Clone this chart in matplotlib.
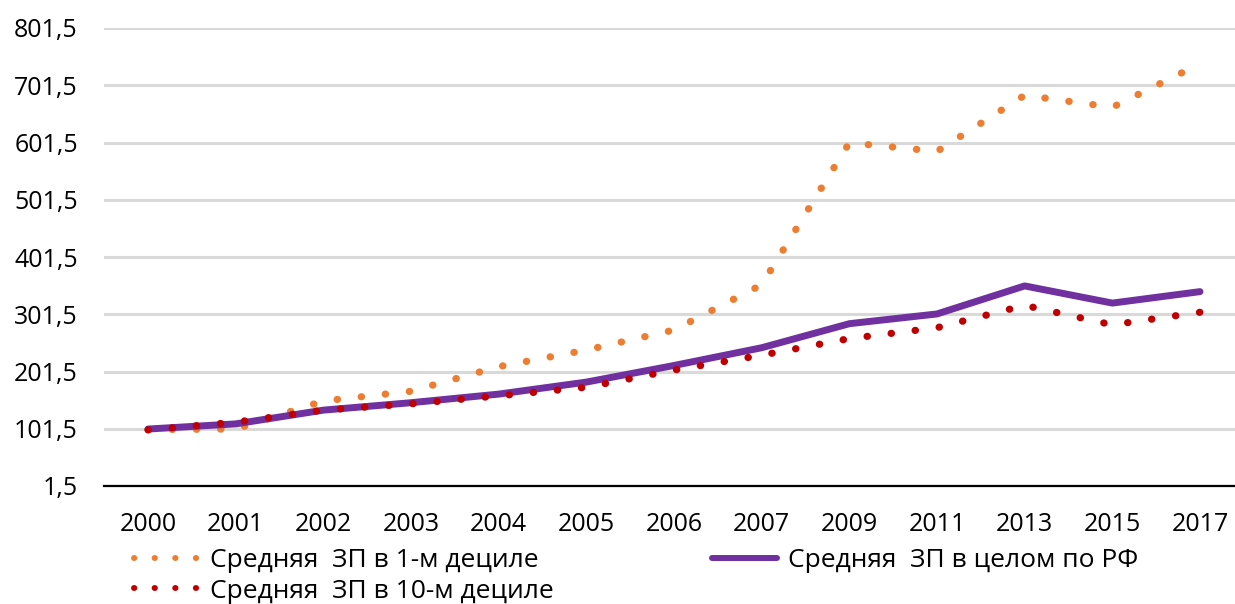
import matplotlib
matplotlib.use("Agg")
import matplotlib.pyplot as plt
from matplotlib.lines import Line2D
from matplotlib.ticker import FixedLocator, FuncFormatter

plt.rcParams['font.family'] = ['Open Sans', 'DejaVu Sans']

# Годы наблюдений (категориальная ось)
years = ['2000', '2001', '2002', '2003', '2004', '2005', '2006',
         '2007', '2009', '2011', '2013', '2015', '2017']

# Средняя зарплата, 2000 = 100
decile_1 = [100, 101, 150, 167, 210, 239, 274, 353, 601, 586, 684, 663, 739]
decile_10 = [99.5, 113, 134, 145, 159, 174, 204, 230, 259, 278, 317, 283, 305]
total_rf = [101, 110, 134, 147, 162, 183, 212, 243, 285, 302, 351, 321, 341]

label_1 = 'Средняя  ЗП в 1-м дециле'
label_10 = 'Средняя  ЗП в 10-м дециле'
label_rf = 'Средняя  ЗП в целом по РФ'

c_orange = '#ED7D31'
c_red = '#C00000'
c_purple = '#7030A0'

W, H = 1235, 604
fig = plt.figure(figsize=(W / 100, H / 100), dpi=100)
ax = fig.add_axes([104.2 / W, 118 / H, 1139.6 / W, 458 / H])

x = list(range(len(years)))
dot_lw = 5.2
dots = (0, (0.05, 3.3))

ax.plot(x, decile_1, color=c_orange, lw=dot_lw, linestyle=dots,
        dash_capstyle='round', zorder=3)
ax.plot(x, total_rf, color=c_purple, lw=5, solid_capstyle='round',
        solid_joinstyle='round', zorder=4)
ax.plot(x, decile_10, color=c_red, lw=dot_lw, linestyle=dots,
        dash_capstyle='round', zorder=5)

ax.set_xlim(-0.5, len(years) - 0.5)
ax.set_ylim(1.5, 801.5)
ax.set_xticks(x)
ax.set_xticklabels(years)
ax.yaxis.set_major_locator(FixedLocator([1.5 + 100 * k for k in range(9)]))
ax.yaxis.set_major_formatter(FuncFormatter(lambda v, p: f'{v:.1f}'.replace('.', ',')))

ax.tick_params(axis='both', length=0, labelsize=18, labelcolor='#000000')
ax.tick_params(axis='y', pad=19)
ax.tick_params(axis='x', pad=19)

ax.grid(axis='y', color='#D9D9D9', lw=2.2, zorder=0)
ax.grid(axis='x', visible=False)
ax.set_axisbelow(True)
for side in ('top', 'right', 'left'):
    ax.spines[side].set_visible(False)
ax.spines['bottom'].set_color('#000000')
ax.spines['bottom'].set_linewidth(1.6)
ax.spines['bottom'].set_zorder(6)

# Легенда под графиком: маркеры-точки чуть плотнее, чем на линиях
leg_dots = (0, (0.05, 3.4))
handles = [
    Line2D([], [], color=c_orange, lw=4.3, linestyle=leg_dots, dash_capstyle='round'),
    Line2D([], [], color=c_red, lw=4.3, linestyle=leg_dots, dash_capstyle='round'),
    Line2D([], [], color=c_purple, lw=4.3, solid_capstyle='round'),
]
fig.legend(handles, [label_1, label_10, label_rf], ncol=2, frameon=False,
           loc='upper left', bbox_to_anchor=(134 / W, 1 - 548 / H),
           fontsize=19, handlelength=2.46, handletextpad=0.42,
           columnspacing=6.0, labelspacing=0.21, borderpad=0, borderaxespad=0)

fig.savefig('out.png', dpi=100)
